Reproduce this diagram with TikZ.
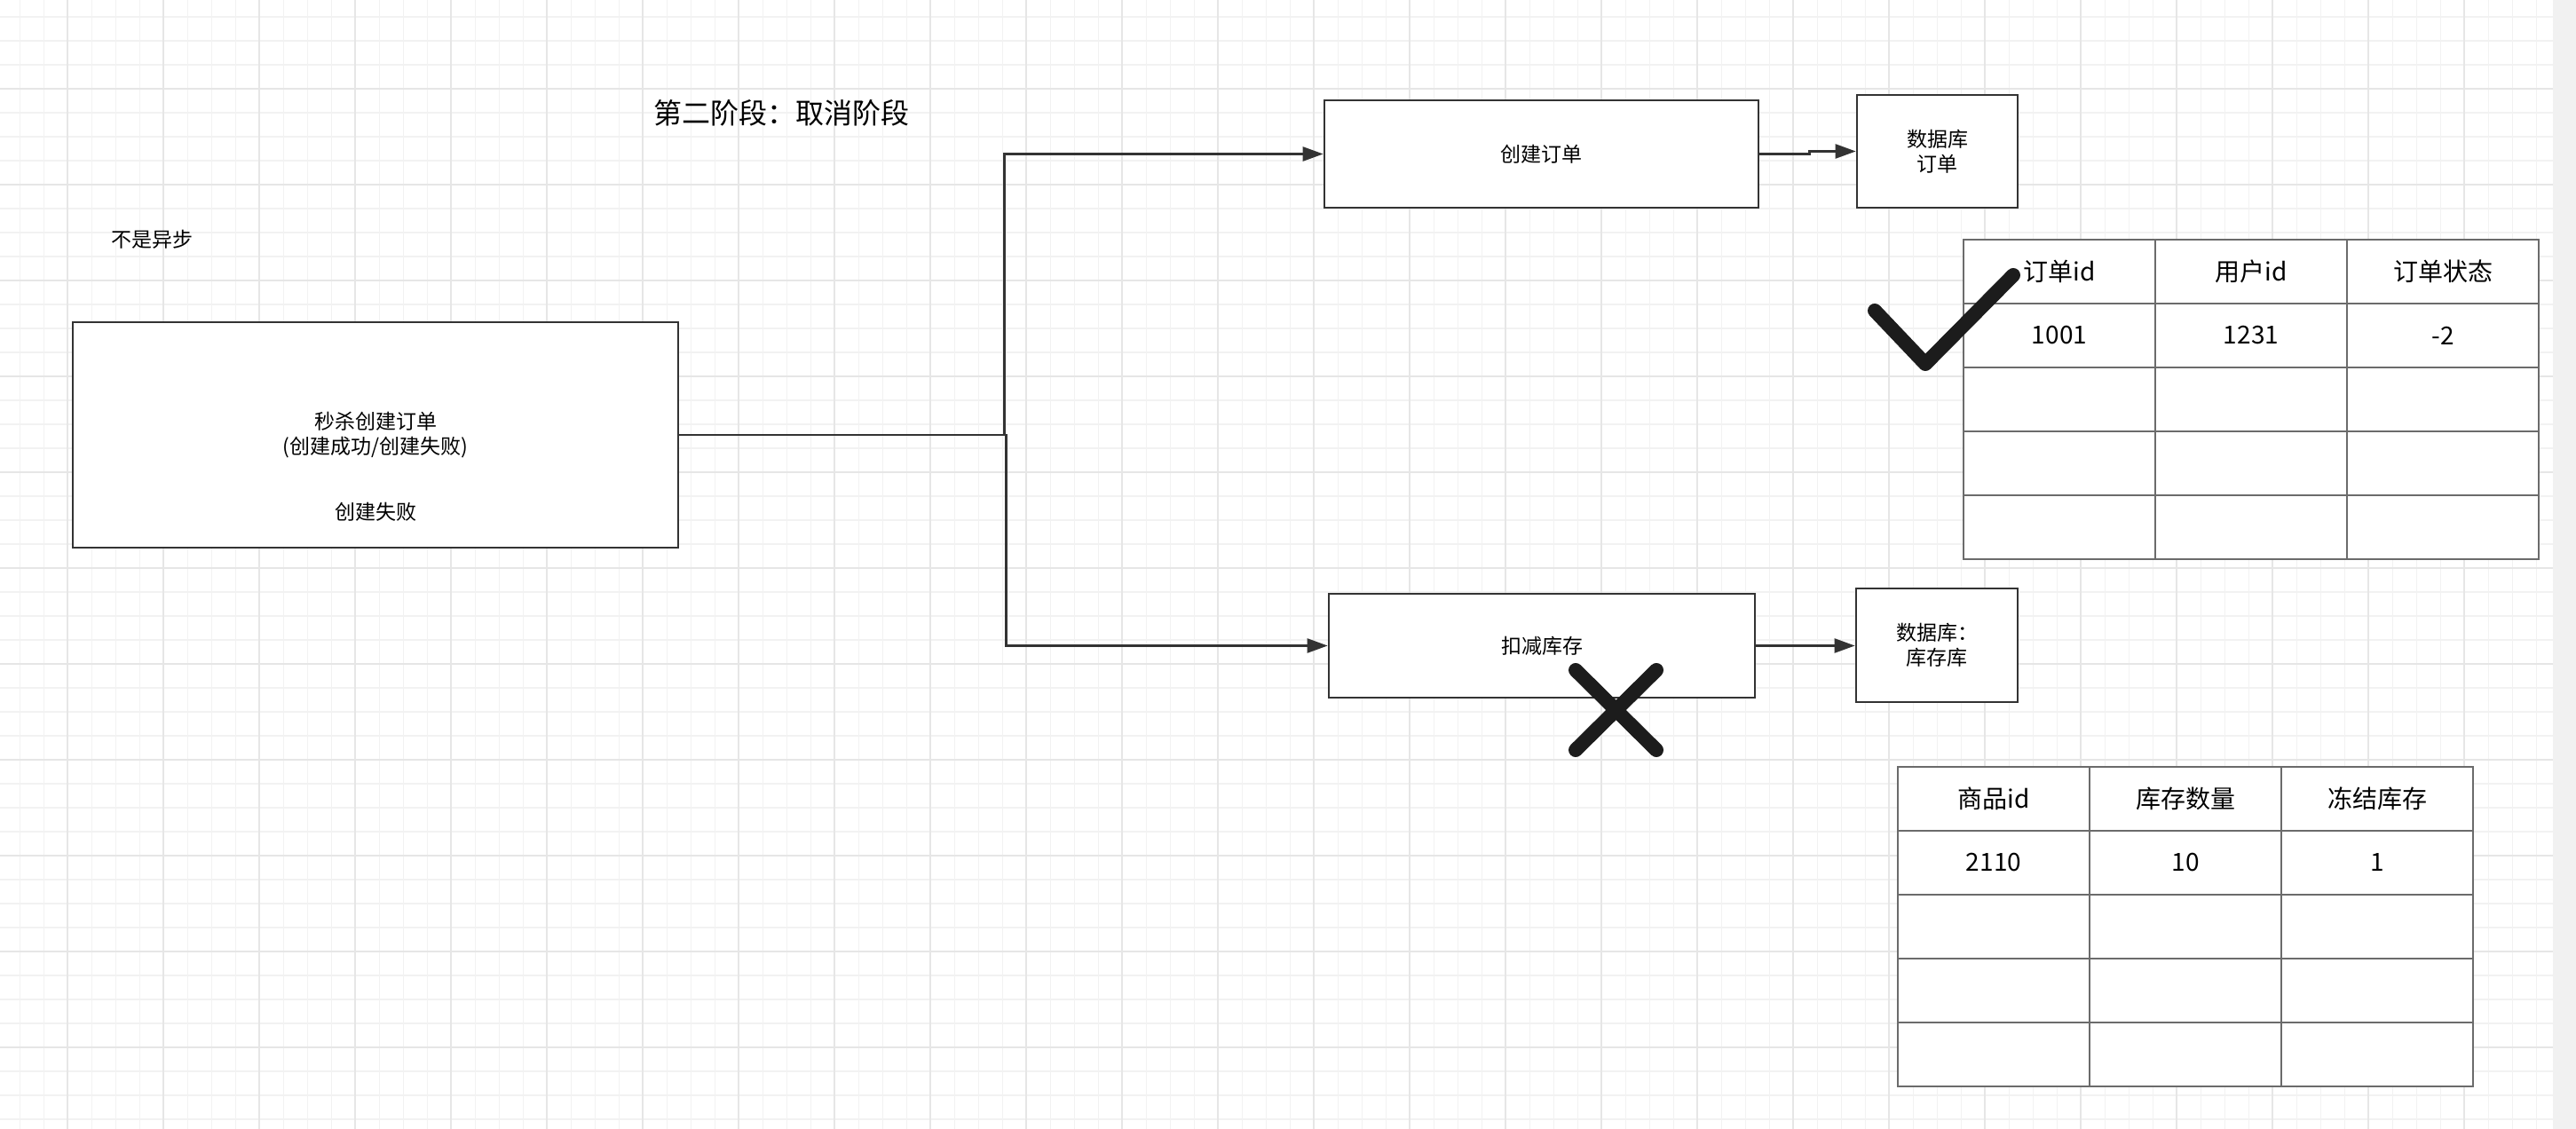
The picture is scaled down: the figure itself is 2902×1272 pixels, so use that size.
\documentclass[tikz,border=0pt]{standalone}
\usepackage{fontspec}
\newfontfamily\cjkfont{Noto Sans CJK SC}
\usepackage{tikz}
\usetikzlibrary{arrows.meta,matrix,calc}
\definecolor{boxline}{HTML}{333333}
\definecolor{tableline}{HTML}{6B6B6B}
\definecolor{gridminor}{HTML}{F2F2F2}
\definecolor{gridmajor}{HTML}{E6E6E6}
\definecolor{scrollbg}{HTML}{F1F1F1}
\definecolor{markink}{HTML}{1C1C1C}

\begin{document}
\begin{tikzpicture}[
  x=0.5pt, y=-0.5pt,
  font=\cjkfont,
  >={Triangle[length=11.5pt,width=8pt]},
  stepbox/.style={
    draw=boxline,
    fill=white,
    line width=1.35pt,
    inner sep=2pt,
    align=center,
    font=\cjkfont\fontsize{11.5pt}{14pt}\selectfont
  },
  plaintext/.style={
    inner sep=0pt,
    font=\cjkfont\fontsize{11.5pt}{14pt}\selectfont
  },
  flow/.style={->, draw=boxline, line width=1.25pt},
  cell/.style={
    draw=tableline,
    fill=white,
    line width=1pt,
    minimum width=108pt,
    minimum height=36pt,
    inner sep=0pt,
    outer sep=0pt,
    anchor=center,
    font=\cjkfont\fontsize{14pt}{16pt}\selectfont
  },
  datatable/.style={
    matrix of nodes,
    nodes in empty cells,
    nodes={cell},
    column sep=-1pt,
    row sep=-1pt,
    inner sep=0pt,
    outer sep=0pt,
    anchor=north west
  },
  tickstroke/.style={draw=markink, line width=8pt, line cap=round, line join=round}
]

  % Canvas and grid
  \useasboundingbox (0,0) rectangle (2902,1272);
  \fill[white] (0,0) rectangle (2876,1272);
  \foreach \i in {-2,...,103}
    \draw[gridminor, line width=0.75pt] ({76.3+27*\i},0) -- ({76.3+27*\i},1272);
  \foreach \j in {-3,...,43}
    \draw[gridminor, line width=0.75pt] (0,{100+27*\j}) -- (2876,{100+27*\j});
  \foreach \i in {0,4,...,100}
    \draw[gridmajor, line width=0.9pt] ({76.3+27*\i},0) -- ({76.3+27*\i},1272);
  \foreach \j in {0,4,...,40}
    \draw[gridmajor, line width=0.9pt] (0,{100+27*\j}) -- (2876,{100+27*\j});
  \fill[scrollbg] (2876,0) rectangle (2902,1272);

  % Labels
  \node[font=\cjkfont\fontsize{16pt}{19pt}\selectfont] (stage) at (880,127) {第二阶段：取消阶段};
  \node[plaintext] (note) at (171,270) {不是异步};

  % Seckill box
  \node[stepbox, minimum width=341pt, minimum height=127pt] (seckill) at (423,490)
    {秒杀创建订单\\(创建成功/创建失败)};
  \node[plaintext] (failnote) at (423,577) {创建失败};

  % --- UPPER BRANCH: order ---
  \node[stepbox, minimum width=244.5pt, minimum height=60.5pt] (order) at (1736.5,173.5) {创建订单};
  \node[stepbox, minimum width=90.5pt, minimum height=63.5pt] (dbo) at (2182.5,170.5) {数据库\\订单};

  % --- LOWER BRANCH: stock ---
  \node[stepbox, minimum width=240pt, minimum height=58.5pt] (stock) at (1737,727.5) {扣减库存};
  \node[stepbox, minimum width=91pt, minimum height=64pt] (dbs) at (2182,727) {数据库：\\库存库};

  % Connecting Arrows
  \draw[flow] (seckill.east) -- ++(366,0) |- (order.west);
  \draw[flow] (seckill.east) -- ++(368,0) |- (stock.west);
  \draw[flow] (order.east) -- ++(56,0) |- (dbo.west);
  \draw[flow] (stock.east) -- (stock.east -| dbs.west);

  % Tables
  \matrix (ordertab) [datatable] at (2211,269) {
    订单id & 用户id & 订单状态 \\
    1001 & 1231 & -2 \\
    & & \\
    & & \\
    & & \\
  };
  \matrix (stocktab) [datatable] at (2137,863) {
    商品id & 库存数量 & 冻结库存 \\
    2110 & 10 & 1 \\
    & & \\
    & & \\
    & & \\
  };

  % Check and cross
  \draw[tickstroke] (2112,350) -- (2169,410) -- (2268,310);
  \draw[tickstroke] (1775,755) -- (1866,845);
  \draw[tickstroke] (1866,755) -- (1775,845);

\end{tikzpicture}
\end{document}
